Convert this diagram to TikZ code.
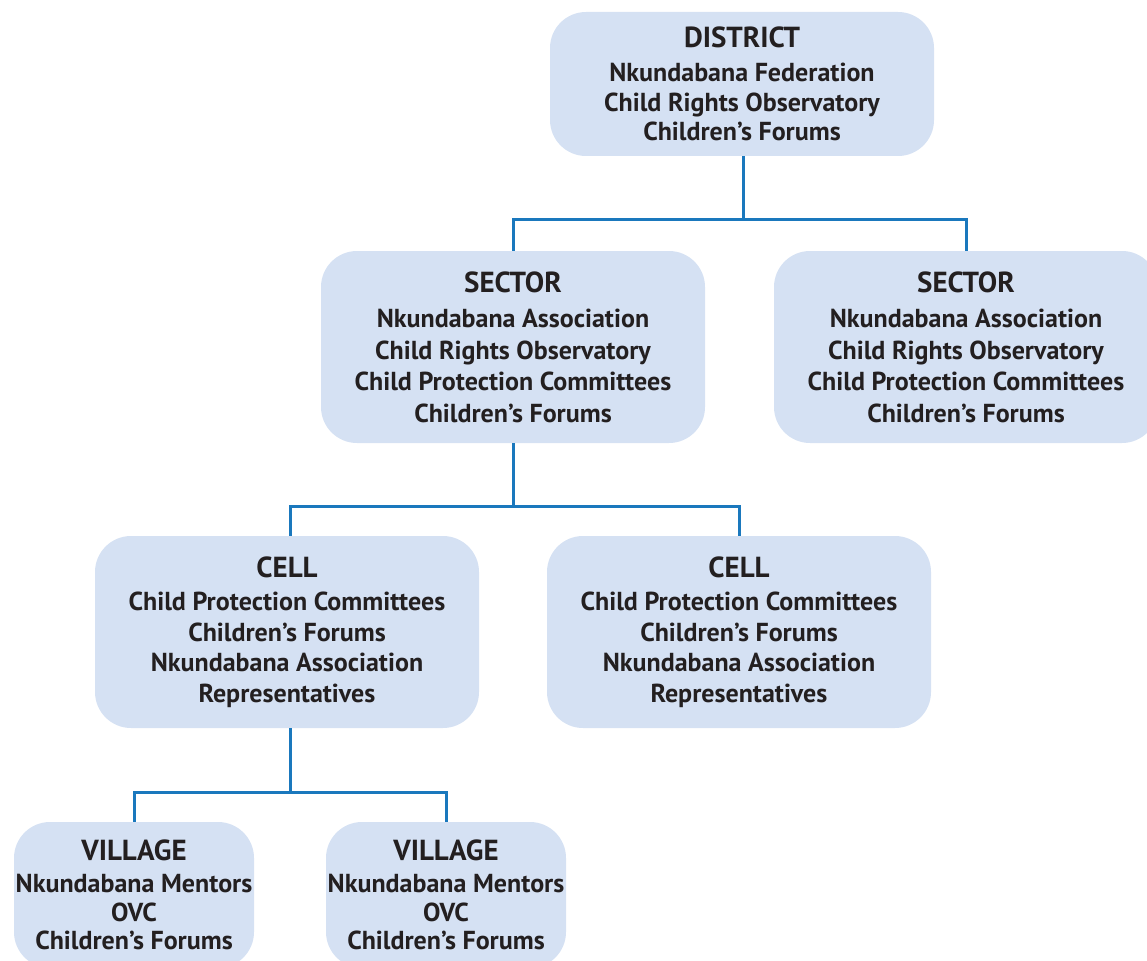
\documentclass[tikz,border=0pt]{standalone}
\usepackage{fontspec}
\setmainfont{PT Sans}
\definecolor{boxfill}{HTML}{D5E1F3}
\definecolor{linkblue}{HTML}{1A78BD}
\definecolor{ink}{HTML}{231F20}
\begin{document}
\begin{tikzpicture}[x=1pt,y=-1pt,
  orgbox/.style={fill=boxfill, rounded corners=36pt, inner sep=0pt, align=center,
    text=ink, font=\bfseries\fontsize{26}{#1}\selectfont},
  orgbox/.default=31.5,
  link/.style={draw=linkblue, line width=3pt}]
\clip (0,0) rectangle (1147,960);
\useasboundingbox (0,0) rectangle (1147,960);
\newcommand{\ttl}[1]{{\fontsize{29}{34}\selectfont #1}}
% boxes
\node[orgbox=29.5, minimum width=384pt, minimum height=144pt] (dist) at (742,84)
  {\ttl{DISTRICT}\\[5pt]Nkundabana Federation\\Child Rights Observatory\\Children’s Forums};
\node[orgbox, minimum width=384pt, minimum height=192pt] (sec1) at (513,347)
  {\ttl{SECTOR}\\[4pt]Nkundabana Association\\Child Rights Observatory\\Child Protection Committees\\Children’s Forums};
\node[orgbox, minimum width=384pt, minimum height=192pt] (sec2) at (966,347)
  {\ttl{SECTOR}\\[4pt]Nkundabana Association\\Child Rights Observatory\\Child Protection Committees\\Children’s Forums};
\node[orgbox=30.5, minimum width=384pt, minimum height=192pt] (cell1) at (287,632)
  {\ttl{CELL}\\[3pt]Child Protection Committees\\Children’s Forums\\Nkundabana Association\\Representatives};
\node[orgbox=30.5, minimum width=384pt, minimum height=192pt] (cell2) at (739,632)
  {\ttl{CELL}\\[3pt]Child Protection Committees\\Children’s Forums\\Nkundabana Association\\Representatives};
\node[orgbox=28.5, minimum width=240pt, minimum height=146pt] (vil1) at (134,895)
  {\ttl{VILLAGE}\\[4pt]Nkundabana Mentors\\OVC\\Children’s Forums};
\node[orgbox=28.5, minimum width=240pt, minimum height=146pt] (vil2) at (446,895)
  {\ttl{VILLAGE}\\[4pt]Nkundabana Mentors\\OVC\\Children’s Forums};
% junction coordinates
\coordinate (j1) at (743,219);
\coordinate (j2) at (513,506);
\coordinate (j3) at (290,792);
% connectors
\draw[link] (dist.south -| j1) -- (j1);
\draw[link] (sec1.north) |- (j1) -| (sec2.north);
\draw[link] (sec1.south) -- (j2);
\draw[link] (cell1.north -| j3) |- (j2) -| (cell2.north);
\draw[link] (cell1.south -| j3) -- (j3);
\draw[link] (vil1.north) |- (j3) -| (vil2.north);
\end{tikzpicture}
\end{document}
